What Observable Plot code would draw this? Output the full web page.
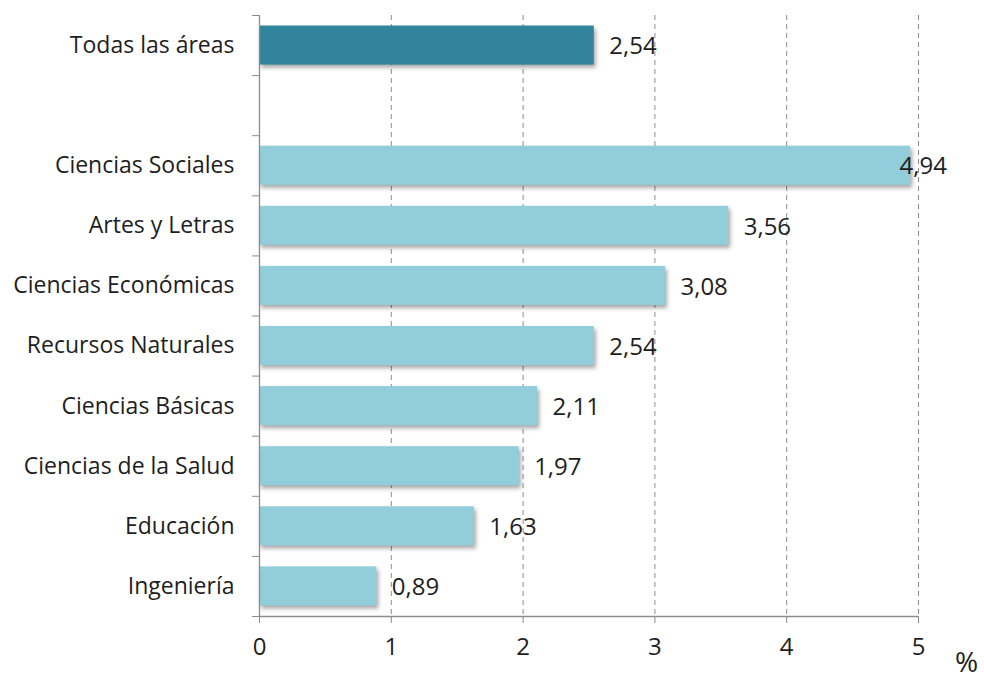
<!DOCTYPE html>
<html>
<head>
<meta charset="utf-8">
<script src="https://cdn.jsdelivr.net/npm/d3@7"></script>
<script src="https://cdn.jsdelivr.net/npm/@observablehq/plot@0.6"></script>
<style>
  html, body { margin: 0; padding: 0; background: #fff; }
  #chart svg { display: block; }
</style>
</head>
<body>
<div id="chart"></div>
<script>
const categories = ["Todas las áreas", "Ciencias Sociales", "Artes y Letras", "Ciencias Económicas", "Recursos Naturales", "Ciencias Básicas", "Ciencias de la Salud", "Educación", "Ingeniería"];
const values = [2.54, 4.94, 3.56, 3.08, 2.54, 2.11, 1.97, 1.63, 0.89];
const xTicks = [0, 1, 2, 3, 4, 5];
const unitLabel = "%";

// slot index: "Todas las áreas" first, then an empty slot, then the areas
const data = categories.map((c, i) => ({
  category: c,
  value: values[i],
  slot: i === 0 ? 0 : i + 1,
  total: i === 0
}));
const nSlots = 10;
const slots = d3.range(nSlots);
const boundaries = d3.range(nSlots + 1).map(k => k - 0.5);
const half = 0.325;

const font = "'Open Sans', sans-serif";
const fs = 23;
const fsNum = 24;
const grid = "#8c8c8c";
const ink = "#1e1e1e";

const chart = Plot.plot({
  width: 984,
  height: 683,
  marginLeft: 259,
  marginRight: 66,
  marginTop: 15,
  marginBottom: 67,
  style: { fontFamily: font, fontSize: fs + "px", color: ink, background: "#fff" },
  x: { domain: [0, 5] },
  y: { domain: [-0.5, nSlots - 0.5], reverse: true },
  marks: [
    Plot.ruleX(xTicks.filter(t => t > 0), { stroke: grid, strokeDasharray: "5,4", strokeWidth: 1 }),
    Plot.rectX(data, {
      x1: 0,
      x2: "value",
      y1: d => d.slot - half,
      y2: d => d.slot + half,
      fill: d => d.total ? "#31849B" : "#92CDDC"
    }),
    Plot.ruleX([0], { stroke: grid, strokeWidth: 1.3 }),
    Plot.ruleY([nSlots - 0.5], { stroke: grid, strokeWidth: 1.3 }),
    Plot.axisX({ ticks: xTicks, tickSize: 7, tickPadding: 14, stroke: grid, tickFormat: d => String(d), fontSize: fsNum, fill: ink, label: null }),
    Plot.axisY({ ticks: boundaries, tickSize: 7, tickFormat: () => "", stroke: grid, label: null }),
    Plot.axisY({ ticks: slots, tickSize: 0, tickPadding: 25, label: null, fontSize: fs, fill: ink,
      tickFormat: s => { const d = data.find(e => e.slot === s); return d ? d.category : ""; } }),
    Plot.text(data.filter(d => d.value < 4.5), {
      x: "value", y: "slot", text: d => d.value.toFixed(2).replace(".", ","),
      textAnchor: "start", dx: 15, dy: 1, fontSize: fsNum, fill: ink
    }),
    Plot.text(data.filter(d => d.value >= 4.5), {
      x: "value", y: "slot", text: d => d.value.toFixed(2).replace(".", ","),
      textAnchor: "start", dx: -11, dy: 1, fontSize: fsNum, fill: ink
    }),
    Plot.text([unitLabel], { frameAnchor: "bottom-right", text: d => d, textAnchor: "middle", lineAnchor: "middle", dx: 48, dy: 47, fontSize: 28, fill: ink })
  ]
});

d3.select(chart).selectAll("g[aria-label='rect'] rect")
  .style("filter", "drop-shadow(2px 3px 2px rgba(0,0,0,0.35))");

document.getElementById("chart").appendChild(chart);
</script>
</body>
</html>
